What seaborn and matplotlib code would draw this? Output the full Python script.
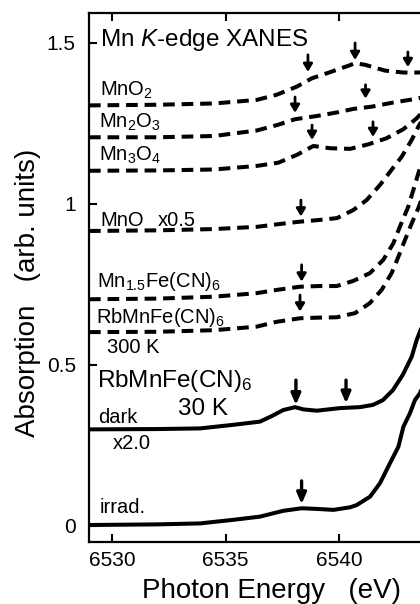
import numpy as np
import matplotlib
matplotlib.use("Agg")
import matplotlib.pyplot as plt
from matplotlib.ticker import FuncFormatter
import seaborn as sns

# Mn K-edge XANES spectra (energy in eV)
mno2_e = [6528.97, 6532.0, 6534.5, 6536.37, 6537.25, 6538.13, 6538.8, 6539.6, 6540.41, 6540.71, 6541.15, 6542.03, 6542.84, 6543.48, 6544.0]
mno2_a = [1.306, 1.308, 1.312, 1.323, 1.339, 1.364, 1.390, 1.409, 1.429, 1.437, 1.432, 1.414, 1.408, 1.408, 1.41]

mn2o3_e = [6528.97, 6532.0, 6534.5, 6536.37, 6537.32, 6538.06, 6539.02, 6539.9, 6540.63, 6541.44, 6542.4, 6543.28, 6544.0]
mn2o3_a = [1.207, 1.207, 1.211, 1.228, 1.246, 1.263, 1.273, 1.284, 1.295, 1.302, 1.315, 1.325, 1.335]

mn3o4_e = [6528.97, 6532.0, 6534.5, 6536.37, 6537.32, 6538.13, 6538.87, 6539.6, 6540.49, 6541.29, 6542.1, 6542.84, 6543.43, 6544.0]
mn3o4_a = [1.103, 1.104, 1.107, 1.118, 1.128, 1.152, 1.180, 1.173, 1.171, 1.185, 1.204, 1.232, 1.266, 1.31]

mno_e = [6528.97, 6532.0, 6534.5, 6536.39, 6537.3, 6538.28, 6539.1, 6539.91, 6540.63, 6541.22, 6541.81, 6542.32, 6542.77, 6543.21, 6543.5, 6544.0]
mno_a = [0.916, 0.918, 0.922, 0.929, 0.937, 0.945, 0.950, 0.956, 0.981, 1.012, 1.059, 1.106, 1.147, 1.199, 1.240, 1.30]

mn15_e = [6528.97, 6532.0, 6534.5, 6536.37, 6537.25, 6538.28, 6539.1, 6539.9, 6540.63, 6541.36, 6541.95, 6542.4, 6542.69, 6543.06, 6543.28, 6543.5, 6543.8]
mn15_a = [0.704, 0.706, 0.712, 0.723, 0.733, 0.743, 0.745, 0.745, 0.761, 0.785, 0.826, 0.878, 0.930, 0.992, 1.043, 1.095, 1.161]

rb300_e = [6528.97, 6532.0, 6534.5, 6536.37, 6537.25, 6538.28, 6539.1, 6539.9, 6540.71, 6541.36, 6541.88, 6542.32, 6542.62, 6542.91, 6543.21, 6543.5, 6543.8]
rb300_a = [0.602, 0.603, 0.608, 0.619, 0.634, 0.645, 0.647, 0.648, 0.661, 0.692, 0.733, 0.785, 0.836, 0.888, 0.940, 0.987, 1.043]

dark_e = [6528.97, 6532.0, 6533.87, 6535.32, 6536.51, 6537.0, 6537.54, 6538.06, 6538.43, 6539.02, 6540.04, 6540.92, 6541.5, 6541.94, 6542.38, 6542.82, 6543.21, 6543.43, 6543.57, 6543.8]
dark_a = [0.300, 0.301, 0.303, 0.314, 0.324, 0.340, 0.360, 0.369, 0.362, 0.358, 0.366, 0.369, 0.376, 0.391, 0.422, 0.470, 0.526, 0.578, 0.603, 0.646]

irrad_e = [6528.97, 6532.0, 6533.87, 6535.32, 6536.51, 6537.53, 6538.35, 6539.02, 6539.75, 6540.49, 6540.78, 6541.37, 6541.81, 6542.25, 6542.62, 6542.84, 6543.13, 6543.35, 6543.57, 6543.8]
irrad_a = [0.003, 0.005, 0.008, 0.019, 0.029, 0.047, 0.055, 0.053, 0.050, 0.058, 0.065, 0.091, 0.133, 0.195, 0.246, 0.308, 0.350, 0.391, 0.412, 0.453]

# feature arrows: energy, arrow tip, arrow tail
arrow_e = [6538.63, 6540.71, 6543.04, 6538.06, 6541.17, 6538.81, 6541.5, 6538.32, 6538.35, 6538.28, 6538.1, 6540.31, 6538.35]
arrow_tip = [1.410, 1.447, 1.425, 1.283, 1.327, 1.199, 1.208, 0.961, 0.759, 0.666, 0.376, 0.381, 0.068]
arrow_top = [1.463, 1.500, 1.472, 1.332, 1.370, 1.245, 1.255, 1.012, 0.811, 0.717, 0.453, 0.453, 0.140]
arrow_big = [False] * 10 + [True] * 3

x_ticks = [6530, 6535, 6540]
y_ticks = [0, 0.5, 1, 1.5]

sns.set_style("ticks")
plt.rcParams["font.family"] = ["Liberation Sans", "DejaVu Sans"]
plt.rcParams["mathtext.fontset"] = "custom"
plt.rcParams["mathtext.rm"] = "Liberation Sans"
plt.rcParams["mathtext.it"] = "Liberation Sans:italic"
plt.rcParams["mathtext.bf"] = "Liberation Sans:bold"
for key in ["text.color", "axes.labelcolor", "xtick.color", "ytick.color", "axes.edgecolor"]:
    plt.rcParams[key] = "black"

fig = plt.figure(figsize=(4.2, 6.04), dpi=100)
# axes run past the right edge of the figure (cropped like the original)
ax = fig.add_axes([89 / 420, 62.3 / 604, 0.919, 0.8754])

dashed = (0, (2.9, 1.7))
curves = [
    (mno2_e, mno2_a, dashed),
    (mn2o3_e, mn2o3_a, dashed),
    (mn3o4_e, mn3o4_a, dashed),
    (mno_e, mno_a, dashed),
    (mn15_e, mn15_a, dashed),
    (rb300_e, rb300_a, dashed),
    (dark_e, dark_a, "-"),
    (irrad_e, irrad_a, "-"),
]
for e, a, ls in curves:
    sns.lineplot(x=e, y=a, ax=ax, color="black", lw=2.9, linestyle=ls,
                 estimator=None, sort=False)

for x, tip, top, big in zip(arrow_e, arrow_tip, arrow_top, arrow_big):
    if big:
        style, lw = "-|>,head_width=0.28,head_length=0.65", 2.4
    else:
        style, lw = "-|>,head_width=0.27,head_length=0.45", 2.0
    ax.annotate("", xy=(x, tip), xytext=(x, top),
                arrowprops=dict(arrowstyle=style, lw=lw, color="black",
                                shrinkA=0, shrinkB=0))

ax.set_xlim(6528.97, 6546.0)
ax.set_ylim(-0.0488, 1.593)
ax.set_xticks(x_ticks)
ax.set_yticks(y_ticks)
ax.yaxis.set_major_formatter(FuncFormatter(lambda v, _: f"{v:g}"))
ax.tick_params(direction="in", length=5.5, width=1.5, top=True, right=True,
               labelsize=15, colors="black")
ax.tick_params(axis="y", pad=9.5)
ax.tick_params(axis="x", pad=7)
for sp in ax.spines.values():
    sp.set_linewidth(1.6)
    sp.set_color("black")
ax.set_xlabel("")
ax.set_ylabel("")

small = 14.5
ax.text(6529.46, 1.491, "Mn $K$-edge XANES", fontsize=17.5, va="baseline")
ax.text(6529.46, 1.336, "MnO$_2$", fontsize=small, va="baseline")
ax.text(6529.41, 1.238, "Mn$_2$O$_3$", fontsize=small, va="baseline")
ax.text(6529.41, 1.134, "Mn$_3$O$_4$", fontsize=small, va="baseline")
ax.text(6529.46, 0.932, "MnO", fontsize=small, va="baseline")
ax.text(6532.02, 0.932, "x0.5", fontsize=small, va="baseline")
ax.text(6529.31, 0.741, "Mn$_{1.5}$Fe(CN)$_6$", fontsize=small, va="baseline")
ax.text(6529.28, 0.631, "RbMnFe(CN)$_6$", fontsize=small, va="baseline")
ax.text(6529.75, 0.538, "300 K", fontsize=small, va="baseline")
ax.text(6529.31, 0.431, "RbMnFe(CN)$_6$", fontsize=17.5, va="baseline")
ax.text(6532.9, 0.345, "30 K", fontsize=17.5, va="baseline")
ax.text(6529.37, 0.321, "dark", fontsize=small, va="baseline")
ax.text(6530.03, 0.238, "x2.0", fontsize=small, va="baseline")
ax.text(6529.46, 0.039, "irrad.", fontsize=small, va="baseline")

fig.text(142 / 420, 6 / 604, "Photon Energy   (eV)", fontsize=20,
         ha="left", va="baseline")
fig.text(28 / 420, 1 - 292.5 / 604, "Absorption   (arb. units)", fontsize=20,
         rotation=90, ha="center", va="center")

fig.savefig("out.png", dpi=100)
